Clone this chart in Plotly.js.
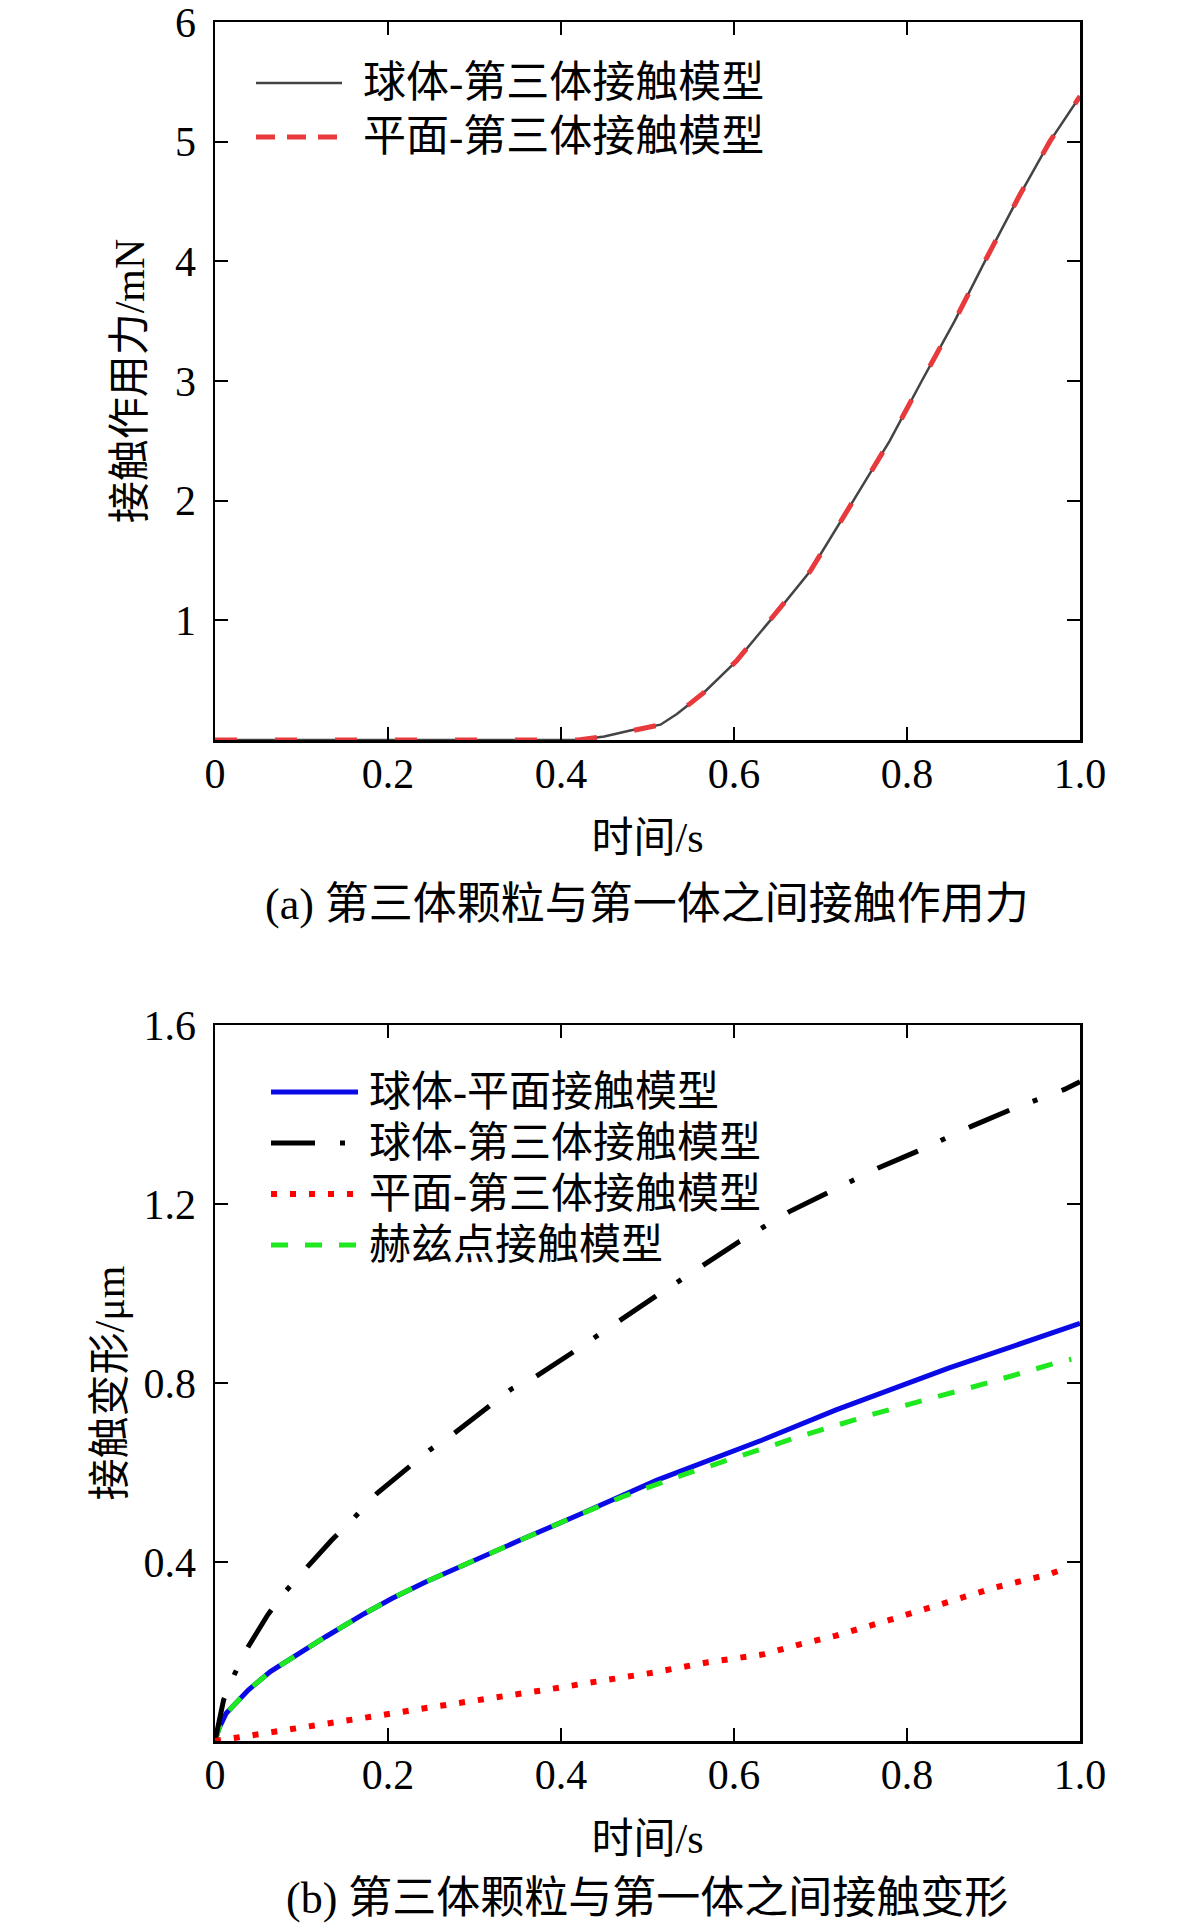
<!DOCTYPE html>
<html>
<head>
<meta charset="utf-8">
<script src="https://cdn.plot.ly/plotly-3.0.1.min.js"></script>
<style>html,body{margin:0;padding:0;background:#fff;}</style>
</head>
<body>
<div id="chart" style="width:1181px;height:1928px;"></div>
<script>
// ---------- data: (a) contact force ----------
const timeA = [0, 0.1, 0.2, 0.3, 0.4, 0.42, 0.45, 0.48, 0.515, 0.534, 0.565, 0.603, 0.642, 0.688, 0.738, 0.78, 0.817, 0.855, 0.89, 0.93, 0.965, 1.0];
const forceSphereThird = [0, 0, 0, 0, 0, 0, 0.03, 0.08, 0.128, 0.217, 0.395, 0.662, 1.0, 1.41, 2.0, 2.5, 3.0, 3.5, 4.0, 4.55, 5.0, 5.38];
const forcePlaneThird  = [0, 0, 0, 0, 0, 0, 0.03, 0.08, 0.128, 0.217, 0.395, 0.662, 1.0, 1.41, 2.0, 2.5, 3.0, 3.5, 4.0, 4.55, 5.0, 5.38];
const namesA = ['球体-第三体接触模型', '平面-第三体接触模型'];

// ---------- data: (b) contact deformation ----------
const timeBlue = [0, 0.005, 0.013, 0.0385, 0.064, 0.09, 0.128, 0.173, 0.205, 0.244, 0.283, 0.353, 0.42, 0.511, 0.632, 0.718, 0.848, 0.95, 1.0];
const defSpherePlane = [0, 0.03, 0.062, 0.114, 0.155, 0.188, 0.233, 0.285, 0.319, 0.356, 0.39, 0.449, 0.505, 0.583, 0.672, 0.740, 0.833, 0.901, 0.933];

const timeBlack = [0, 0.005, 0.01, 0.022, 0.035, 0.061, 0.08, 0.103, 0.135, 0.161, 0.187, 0.248, 0.274, 0.343, 0.3705, 0.4116, 0.4677, 0.5088, 0.565, 0.606, 0.664, 0.708, 0.766, 0.811, 0.875, 0.919, 0.95, 0.982, 1.0];
const defSphereThird = [0, 0.05, 0.092, 0.147, 0.2, 0.282, 0.331, 0.381, 0.449, 0.499, 0.553, 0.65, 0.684, 0.787, 0.814, 0.866, 0.941, 0.993, 1.064, 1.116, 1.183, 1.224, 1.280, 1.317, 1.374, 1.410, 1.434, 1.456, 1.473];

const timeRed = [0, 0.019, 0.064, 0.128, 0.193, 0.255, 0.319, 0.381, 0.445, 0.507, 0.570, 0.635, 0.674, 0.717, 0.779, 0.840, 0.902, 0.965, 0.986];
const defPlaneThird = [0, 0.006, 0.019, 0.037, 0.058, 0.077, 0.095, 0.114, 0.134, 0.153, 0.176, 0.194, 0.215, 0.235, 0.270, 0.305, 0.343, 0.373, 0.388];

const timeGreen = [0, 0.005, 0.013, 0.0385, 0.064, 0.09, 0.128, 0.173, 0.205, 0.244, 0.283, 0.353, 0.42, 0.47, 0.546, 0.675, 0.762, 0.891, 0.978, 0.99];
const defHertz = [0, 0.03, 0.062, 0.114, 0.155, 0.188, 0.233, 0.285, 0.319, 0.356, 0.39, 0.449, 0.505, 0.545, 0.598, 0.680, 0.731, 0.799, 0.848, 0.853];

const namesB = ['球体-平面接触模型', '球体-第三体接触模型', '平面-第三体接触模型', '赫兹点接触模型'];

// ---------- ticks & titles ----------
const xTickVals = [0, 0.2, 0.4, 0.6, 0.8, 1.0];
const xTickText = ['0', '0.2', '0.4', '0.6', '0.8', '1.0'];
const yTickValsA = [1, 2, 3, 4, 5, 6];
const yTickTextA = ['1', '2', '3', '4', '5', '6'];
const yTickValsB = [0.4, 0.8, 1.2, 1.6];
const yTickTextB = ['0.4', '0.8', '1.2', '1.6'];
const xTitle = '时间/s';
const yTitleA = '接触作用力/mN';
const yTitleB = '接触变形/μm';
const captionA = '(a) 第三体颗粒与第一体之间接触作用力';
const captionB = '(b) 第三体颗粒与第一体之间接触变形';

// ---------- styling ----------
const W = 1181, H = 1928;
const px = x => x / W;
const py = y => 1 - y / H;
const FONT = 'Liberation Serif, Noto Sans CJK SC, serif';

const styleA = [
  {color: '#444444', width: 2.5, dash: 'solid'},
  {color: '#e83a3c', width: 5, dash: '22px,38px'}
];
const legendDashA = ['solid', '19px,12px'];
const styleB = [
  {color: '#0a0ae6', width: 5, dash: 'solid'},
  {color: '#000000', width: 5, dash: '44px,25px,5px,26px'},
  {color: '#ff0000', width: 6, dash: '6px,13px'},
  {color: '#1ee81e', width: 5, dash: '17px,17px'}
];

const traces = [
  {x: timeA, y: forceSphereThird, xaxis: 'x', yaxis: 'y', name: namesA[0], mode: 'lines', line: styleA[0]},
  {x: timeA, y: forcePlaneThird, xaxis: 'x', yaxis: 'y', name: namesA[1], mode: 'lines', line: styleA[1]},
  {x: timeBlue, y: defSpherePlane, xaxis: 'x2', yaxis: 'y2', name: namesB[0], mode: 'lines', line: styleB[0]},
  {x: timeGreen, y: defHertz, xaxis: 'x2', yaxis: 'y2', name: namesB[3], mode: 'lines', line: styleB[3]},
  {x: timeBlack, y: defSphereThird, xaxis: 'x2', yaxis: 'y2', name: namesB[1], mode: 'lines', line: styleB[1]},
  {x: timeRed, y: defPlaneThird, xaxis: 'x2', yaxis: 'y2', name: namesB[2], mode: 'lines', line: styleB[2]}
];

function xAxis(anchor) {
  return {
    domain: [px(215), px(1080)], anchor: anchor, range: [0, 1],
    tickmode: 'array', tickvals: xTickVals, ticktext: xTickText,
    ticks: 'inside', ticklen: 13, tickwidth: 2, tickcolor: '#000',
    mirror: 'allticks', showline: true, linewidth: 2.5, linecolor: '#000',
    showgrid: false, zeroline: false, ticklabelstandoff: -5,
    ticklabeloverflow: 'allow',
    tickfont: {family: FONT, size: 42, color: '#000'},
    title: {text: xTitle, font: {family: FONT, size: 42, color: '#000'}, standoff: 27}
  };
}
function yAxis(anchor, top, bottom, range, vals, text, title, standoff) {
  return {
    domain: [py(bottom), py(top)], anchor: anchor, range: range,
    tickmode: 'array', tickvals: vals, ticktext: text,
    ticks: 'inside', ticklen: 13, tickwidth: 2, tickcolor: '#000',
    mirror: 'allticks', showline: true, linewidth: 2.5, linecolor: '#000',
    showgrid: false, zeroline: false, ticklabelstandoff: 8,
    ticklabeloverflow: 'allow',
    tickfont: {family: FONT, size: 42, color: '#000'},
    title: {text: title, font: {family: FONT, size: 42, color: '#000'}, standoff: standoff}
  };
}

// custom legends (long line samples like the reference)
const shapes = [];
const annotations = [];
const legA = {x0: 256, x1: 342, tx: 361, ys: [83, 137], size: 43};
const legB = {x0: 271, x1: 358, tx: 367, ys: [1092, 1143, 1194, 1245], size: 42};
namesA.forEach((n, i) => {
  shapes.push({type: 'line', xref: 'paper', yref: 'paper', x0: px(legA.x0), x1: px(legA.x1), y0: py(legA.ys[i]), y1: py(legA.ys[i]),
               line: {color: styleA[i].color, width: styleA[i].width, dash: legendDashA[i]}});
  annotations.push({xref: 'paper', yref: 'paper', x: px(legA.tx), y: py(legA.ys[i]), xanchor: 'left', yanchor: 'middle', showarrow: false, text: n, font: {family: FONT, size: legA.size, color: '#000'}});
});
namesB.forEach((n, i) => {
  shapes.push({type: 'line', xref: 'paper', yref: 'paper', x0: px(legB.x0), x1: px(legB.x1), y0: py(legB.ys[i]), y1: py(legB.ys[i]), line: styleB[i]});
  annotations.push({xref: 'paper', yref: 'paper', x: px(legB.tx), y: py(legB.ys[i]), xanchor: 'left', yanchor: 'middle', showarrow: false, text: n, font: {family: FONT, size: legB.size, color: '#000'}});
});
annotations.push({xref: 'paper', yref: 'paper', x: px(647), y: py(904), xanchor: 'center', yanchor: 'middle', showarrow: false, text: captionA, font: {family: FONT, size: 44, color: '#000'}});
annotations.push({xref: 'paper', yref: 'paper', x: px(647), y: py(1898), xanchor: 'center', yanchor: 'middle', showarrow: false, text: captionB, font: {family: FONT, size: 44, color: '#000'}});

const layout = {
  width: W, height: H,
  margin: {l: 0, r: 0, t: 0, b: 0},
  paper_bgcolor: '#fff', plot_bgcolor: '#fff',
  showlegend: false,
  font: {family: FONT, color: '#000'},
  xaxis: xAxis('y'),
  yaxis: yAxis('x', 22, 740, [0, 6], yTickValsA, yTickTextA, yTitleA, 18),
  xaxis2: xAxis('y2'),
  yaxis2: yAxis('x2', 1025, 1741, [0, 1.6], yTickValsB, yTickTextB, yTitleB, 6),
  shapes: shapes,
  annotations: annotations
};

Plotly.newPlot('chart', traces, layout, {staticPlot: true, displayModeBar: false});
</script>
</body>
</html>
